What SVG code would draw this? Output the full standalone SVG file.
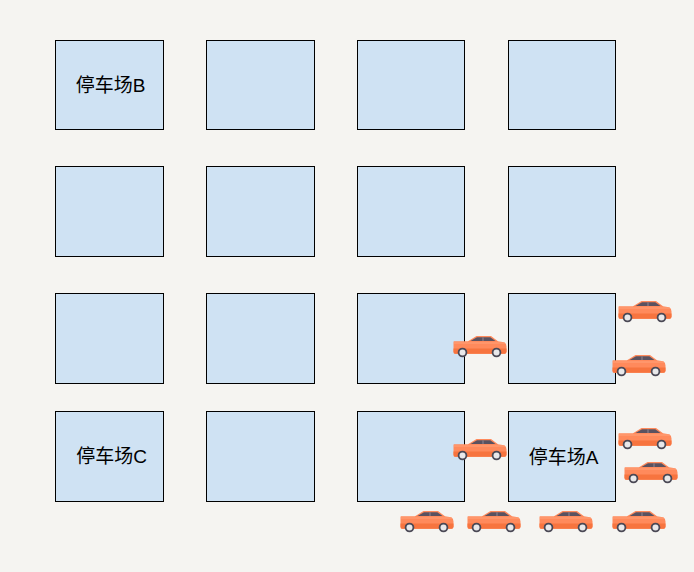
<svg xmlns="http://www.w3.org/2000/svg" xmlns:xlink="http://www.w3.org/1999/xlink" width="694" height="572" viewBox="0 0 694 572">
<style>
.lot{fill:#cfe2f3;stroke:#000;stroke-width:1}
.lbl{font-family:"Liberation Sans","Noto Sans CJK SC",sans-serif;font-size:19px;fill:#000;text-anchor:middle;dominant-baseline:central}
</style>
<defs>
<g id="car">
<path d="M1,5.3 L15,5.3 L23.5,0 L38,0 L45,5.3 L51,6.3 Q53.5,7.3 53.5,10.5 L53.5,15.5 Q53.5,17.7 51.5,17.7 L2,17.7 Q0.5,17.7 0.5,15.5 L0.5,6.5 Q0.5,5.3 1,5.3 Z" fill="#ff8a5c"/>
<path d="M0.5,12.5 L53.5,12.5 L53.5,15.5 Q53.5,17.7 51.5,17.7 L2,17.7 Q0.5,17.7 0.5,15.5 Z" fill="#f7743f"/>
<path d="M1,7 L52,7" stroke="#ffa27a" stroke-width="1.2"/>
<path d="M17.5,5 L24,1.3 L37.3,1.3 L42.5,5 Z" fill="#5a5260"/>
<path d="M30,1.3 L30,5" stroke="#8a7f8a" stroke-width="1.2"/>
<circle cx="9.5" cy="16.5" r="4.8" fill="#4a4855"/>
<circle cx="9.5" cy="16.5" r="3" fill="#e8e8ea"/>
<circle cx="43.5" cy="16.5" r="4.8" fill="#4a4855"/>
<circle cx="43.5" cy="16.5" r="3" fill="#e8e8ea"/>
</g>
</defs>
<rect x="0" y="0" width="694" height="572" fill="#f5f4f1"/>
<g id="lot-r1c1"><rect class="lot" x="55.5" y="40.5" width="108" height="89"/><text class="lbl" x="110.5" y="85">停车场B</text></g>
<g id="lot-r1c2"><rect class="lot" x="206.5" y="40.5" width="108" height="89"/></g>
<g id="lot-r1c3"><rect class="lot" x="357.5" y="40.5" width="107" height="89"/></g>
<g id="lot-r1c4"><rect class="lot" x="508.5" y="40.5" width="107" height="89"/></g>
<g id="lot-r2c1"><rect class="lot" x="55.5" y="166.5" width="108" height="90"/></g>
<g id="lot-r2c2"><rect class="lot" x="206.5" y="166.5" width="108" height="90"/></g>
<g id="lot-r2c3"><rect class="lot" x="357.5" y="166.5" width="107" height="90"/></g>
<g id="lot-r2c4"><rect class="lot" x="508.5" y="166.5" width="107" height="90"/></g>
<g id="lot-r3c1"><rect class="lot" x="55.5" y="293.5" width="108" height="90"/></g>
<g id="lot-r3c2"><rect class="lot" x="206.5" y="293.5" width="108" height="90"/></g>
<g id="lot-r3c3"><rect class="lot" x="357.5" y="293.5" width="107" height="90"/></g>
<g id="lot-r3c4"><rect class="lot" x="508.5" y="293.5" width="107" height="90"/></g>
<g id="lot-r4c1"><rect class="lot" x="55.5" y="411.5" width="108" height="90"/><text class="lbl" x="111.5" y="456.5">停车场C</text></g>
<g id="lot-r4c2"><rect class="lot" x="206.5" y="411.5" width="108" height="90"/></g>
<g id="lot-r4c3"><rect class="lot" x="357.5" y="411.5" width="107" height="90"/></g>
<g id="lot-r4c4"><rect class="lot" x="508.5" y="411.5" width="107" height="90"/><text class="lbl" x="563.5" y="457">停车场A</text></g>
<g id="cars">
<use xlink:href="#car" href="#car" x="453" y="336"/>
<use xlink:href="#car" href="#car" x="618" y="301"/>
<use xlink:href="#car" href="#car" x="612" y="355"/>
<use xlink:href="#car" href="#car" x="453" y="439"/>
<use xlink:href="#car" href="#car" x="618" y="428"/>
<use xlink:href="#car" href="#car" x="624" y="462"/>
<use xlink:href="#car" href="#car" x="400" y="511"/>
<use xlink:href="#car" href="#car" x="467" y="511"/>
<use xlink:href="#car" href="#car" x="539" y="511"/>
<use xlink:href="#car" href="#car" x="612" y="511"/>
</g>
<g id="connectors"/>
</svg>
